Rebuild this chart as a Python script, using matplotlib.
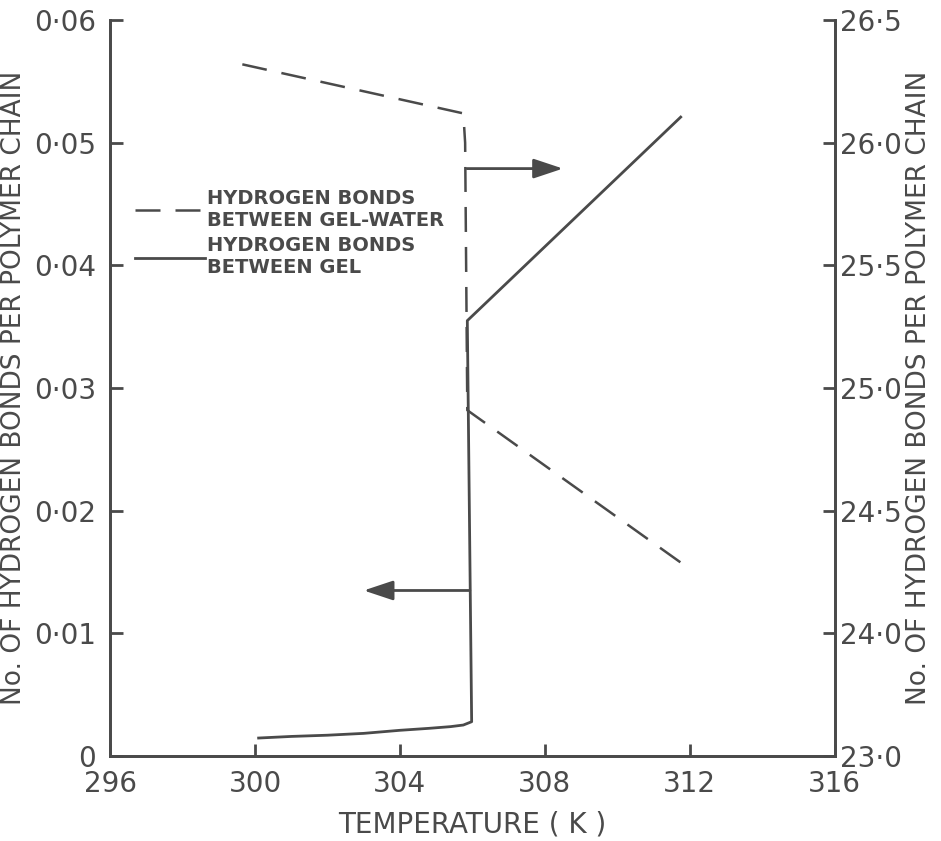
import numpy as np
import matplotlib.pyplot as plt

# solid line: hydrogen bonds between gel (left axis)
temp_gel = [300.1, 301.0, 302.0, 303.0, 304.0, 304.8, 305.4, 305.75, 305.98, 305.86, 311.75]
bonds_gel = [0.00147, 0.0016, 0.0017, 0.00185, 0.0021, 0.00226, 0.0024, 0.00253, 0.0028, 0.0355, 0.0521]

# dashed line: hydrogen bonds between gel-water (right axis)
temp_water = [299.65, 305.75, 305.8, 305.86, 311.93]
bonds_water = [26.32, 26.12, 26.0, 24.91, 24.27]

x_ticks = [296, 300, 304, 308, 312, 316]
x_labels = ['296', '300', '304', '308', '312', '316']
left_ticks = [0, 0.01, 0.02, 0.03, 0.04, 0.05, 0.06]
left_labels = ['0', '0·01', '0·02', '0·03', '0·04', '0·05', '0·06']
right_ticks = [23.0, 24.0, 24.5, 25.0, 25.5, 26.0, 26.5]
right_labels = ['23·0', '24·0', '24·5', '25·0', '25·5', '26·0', '26·5']

# arrows (start, tip)
arrow_right = [(305.85, 25.895), (308.5, 25.895)]
arrow_left = [(305.93, 0.0135), (303.0, 0.0135)]

ink = '#4a4a4a'
plt.rcParams['font.family'] = ['DejaVu Sans']
plt.rcParams['text.color'] = ink

fig = plt.figure(figsize=(9.41, 8.41), dpi=100)
ax = fig.add_axes([0.117, 0.101, 0.770, 0.875])
ax2 = ax.twinx()


def fwd(v):
    v = np.asarray(v, dtype=float)
    return np.where(v < 24, (v - 23) * 0.01, 0.01 + (v - 24) * 0.02)


def inv(u):
    u = np.asarray(u, dtype=float)
    return np.where(u < 0.01, 23 + u / 0.01, 24 + (u - 0.01) / 0.02)


# right axis has a broken scale: 23.0 -> 24.0 over the first interval
ax2.set_yscale('function', functions=(fwd, inv))

l1, = ax2.plot(temp_water, bonds_water, color=ink, lw=1.8, dashes=(10, 6),
               label='HYDROGEN BONDS\nBETWEEN GEL-WATER')
l2, = ax.plot(temp_gel, bonds_gel, color=ink, lw=2.0,
              label='HYDROGEN BONDS\nBETWEEN GEL')

ax2.annotate('', xy=arrow_right[1], xytext=arrow_right[0],
             arrowprops=dict(arrowstyle='-|>,head_length=0.9,head_width=0.3',
                             color=ink, lw=2, mutation_scale=20, shrinkA=0, shrinkB=0))
ax.annotate('', xy=arrow_left[1], xytext=arrow_left[0],
            arrowprops=dict(arrowstyle='-|>,head_length=0.9,head_width=0.3',
                            color=ink, lw=2, mutation_scale=20, shrinkA=0, shrinkB=0))

ax.set_xlim(296, 316)
ax.set_ylim(0, 0.06)
ax2.set_ylim(23, 26.5)

ax.set_xticks(x_ticks)
ax.set_xticklabels(x_labels)
ax.set_yticks(left_ticks)
ax.set_yticklabels(left_labels)
ax2.set_yticks(right_ticks)
ax2.set_yticklabels(right_labels)
ax2.minorticks_off()

for a in (ax, ax2):
    a.spines['top'].set_visible(False)
    for s in a.spines.values():
        s.set_color(ink)
        s.set_linewidth(2)
    a.tick_params(direction='in', length=9, width=2, color=ink,
                  labelsize=20, labelcolor=ink)
ax.tick_params(axis='x', pad=10)
ax.tick_params(axis='y', pad=10)
ax2.tick_params(axis='y', pad=4)

ax.set_xlabel('TEMPERATURE ( K )', fontsize=20, color=ink, labelpad=9)
ax.set_ylabel('No. OF HYDROGEN BONDS PER POLYMER CHAIN', fontsize=19, color=ink, labelpad=5)
ax2.set_ylabel('No. OF HYDROGEN BONDS PER POLYMER CHAIN', fontsize=19, color=ink, labelpad=3)

ax2.legend(handles=[l1, l2], loc='upper left', bbox_to_anchor=(0.01, 0.795),
           frameon=False, handlelength=3.6, handletextpad=0.1, labelspacing=0.35,
           prop={'size': 14, 'weight': 'bold'}, labelcolor=ink)

fig.savefig('out.png', dpi=100)
